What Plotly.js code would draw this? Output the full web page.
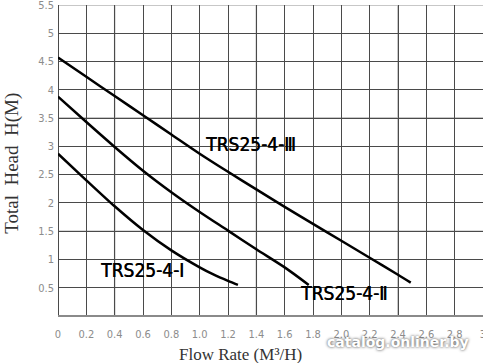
<!DOCTYPE html>
<html>
<head>
<meta charset="utf-8">
<script src="https://cdn.plot.ly/plotly-3.0.1.min.js"></script>
<style>html,body{margin:0;padding:0;background:#fff;}#chart{width:483px;height:363px;}</style>
</head>
<body>
<div id="chart"></div>
<script>
// Curve TRS25-4-I
const flowI = [0, 0.2, 0.4, 0.6, 0.8, 1.0, 1.1, 1.2, 1.27];
const headI = [2.87, 2.40, 1.94, 1.52, 1.16, 0.86, 0.73, 0.62, 0.55];
// Curve TRS25-4-II
const flowII = [0, 0.2, 0.4, 0.6, 0.8, 1.0, 1.2, 1.4, 1.6, 1.77];
const headII = [3.88, 3.43, 2.99, 2.57, 2.19, 1.84, 1.51, 1.18, 0.86, 0.55];
// Curve TRS25-4-III
const flowIII = [0, 0.2, 0.4, 0.6, 0.8, 1.0, 1.2, 1.4, 1.6, 1.8, 2.0, 2.2, 2.4, 2.49];
const headIII = [4.57, 4.23, 3.89, 3.55, 3.21, 2.87, 2.55, 2.24, 1.93, 1.63, 1.33, 1.03, 0.73, 0.59];

const curveNames = ['TRS25-4-\u2160', 'TRS25-4-\u2161', 'TRS25-4-\u2162'];
const labelX = [0.59, 2.02, 1.36];
const labelY = [0.81, 0.40, 3.04];

const xTickVals = [0, 0.2, 0.4, 0.6, 0.8, 1.0, 1.2, 1.4, 1.6, 1.8, 2.0, 2.2, 2.4, 2.6, 2.8, 3];
const xTickText = ['0', '0.2', '0.4', '0.6', '0.8', '1.0', '1.2', '1.4', '1.6', '1.8', '2.0', '2.2', '2.4', '2.6', '2.8', '3'];
const yTickVals = [0.5, 1, 1.5, 2, 2.5, 3, 3.5, 4, 4.5, 5, 5.5];
const yTickText = ['0.5', '1', '1.5', '2', '2.5', '3', '3.5', '4', '4.5', '5', '5.5'];
// lighter (scan-faded) grid lines
const lightX = [0.4, 1.4, 2.4];
const lightY = [1.5, 3.5, 5.5];

const xTitle = 'Flow Rate (M\u00b3/H)';
const yTitle = 'Total\u00a0 Head\u00a0 H(M)';
const watermark = 'catalog.onliner.by';

const lineStyle = {color: '#000', width: 2.5, shape: 'spline', smoothing: 0.8};
const traces = [
  {x: flowI, y: headI, name: curveNames[0]},
  {x: flowII, y: headII, name: curveNames[1]},
  {x: flowIII, y: headIII, name: curveNames[2]}
].map(t => Object.assign(t, {type: 'scatter', mode: 'lines', line: lineStyle, hoverinfo: 'skip'}));

const tickFont = {family: '"DejaVu Sans Condensed", "Liberation Sans Narrow", sans-serif', size: 11, color: '#8c8c8c'};
const labelFont = {family: '"DejaVu Sans Condensed", sans-serif', size: 19, color: '#000', shadow: '0.5px 0px 0px #000'};

const shapes = [];
lightX.forEach(v => shapes.push({type: 'line', layer: 'between', xref: 'x', yref: 'paper', x0: v, x1: v, y0: 0, y1: 1, line: {color: '#b4b4b4', width: 1.5}}));
lightY.forEach(v => shapes.push({type: 'line', layer: 'between', xref: 'paper', yref: 'y', x0: 0, x1: 1, y0: v, y1: v, line: {color: '#b4b4b4', width: 1.5}}));

const annotations = curveNames.map((n, i) => ({
  x: labelX[i], y: labelY[i], xref: 'x', yref: 'y', text: n, showarrow: false, font: labelFont
}));
annotations.push({xref: 'paper', yref: 'paper', x: -0.11, y: 0.49, text: yTitle, textangle: -90, showarrow: false,
  font: {family: '"Liberation Serif", "DejaVu Serif", serif', size: 19, color: '#333'}, xanchor: 'center', yanchor: 'middle'});
annotations.push({xref: 'paper', yref: 'paper', x: 0.43, y: -0.125, text: xTitle, showarrow: false,
  font: {family: '"Liberation Serif", "DejaVu Serif", serif', size: 17, color: '#333'}, xanchor: 'center', yanchor: 'middle'});
annotations.push({xref: 'paper', yref: 'paper', x: 0.80, y: -0.082, text: '<b>' + watermark + '</b>', showarrow: false,
  font: {family: '"DejaVu Sans", sans-serif', size: 14, color: '#ffffff', shadow: '0px 0px 3px #333'}, xanchor: 'center', yanchor: 'middle'});

const layout = {
  width: 483, height: 363,
  margin: {l: 58, r: 0, t: 5, b: 47},
  paper_bgcolor: '#fff', plot_bgcolor: '#fff',
  showlegend: false,
  xaxis: {range: [0, 3], tickvals: xTickVals, ticktext: xTickText, showgrid: true, gridcolor: '#4a4a4a', gridwidth: 1,
    zeroline: true, zerolinecolor: '#4a4a4a', zerolinewidth: 1, ticks: '', ticklabelstandoff: 10, ticklabeloverflow: 'allow',
    tickfont: tickFont, fixedrange: true},
  yaxis: {range: [0, 5.5], tickvals: yTickVals, ticktext: yTickText, showgrid: true, gridcolor: '#4a4a4a', gridwidth: 1,
    zeroline: true, zerolinecolor: '#8a8a8a', zerolinewidth: 1.5, ticks: '', ticklabelstandoff: 3, ticklabeloverflow: 'allow',
    tickfont: tickFont, fixedrange: true},
  shapes: shapes,
  annotations: annotations
};

Plotly.newPlot('chart', traces, layout, {staticPlot: true, displayModeBar: false});
</script>
</body>
</html>
